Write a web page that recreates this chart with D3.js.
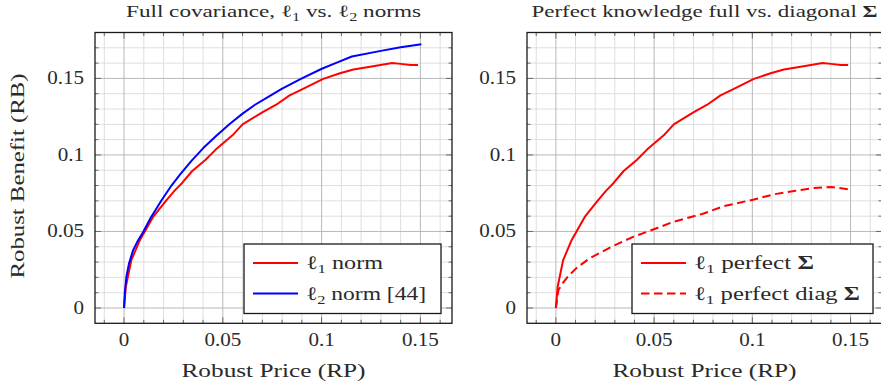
<!DOCTYPE html>
<html>
<head>
<meta charset="utf-8">
<script src="https://cdn.jsdelivr.net/npm/d3@7"></script>
<style>
  body { margin: 0; background: #fff; }
  svg { display: block; }
  text { font-family: "Liberation Serif", "DejaVu Serif", serif; fill: #2a2a2a; }
</style>
</head>
<body>
<svg id="chart" width="881" height="386"></svg>
<script>
// THE DATA
// l1 norm, full covariance (same curve in both panels)
const l1Full = [
  [0, 0], [0.0009, 0.0139], [0.0037, 0.0313], [0.008, 0.0443], [0.0147, 0.0595],
  [0.0215, 0.0705], [0.0255, 0.0765], [0.0294, 0.0817], [0.0345, 0.0895], [0.0413, 0.0969], [0.0464, 0.1035],
  [0.0549, 0.1128], [0.06, 0.12], [0.0702, 0.128], [0.077, 0.1328], [0.0838, 0.1389],
  [0.0906, 0.1432], [0.1008, 0.1497], [0.1093, 0.1534], [0.1161, 0.1558], [0.123, 0.1573],
  [0.1298, 0.1588], [0.1357, 0.1601], [0.14, 0.1595], [0.1451, 0.1588], [0.1488, 0.1588]
];
// l2 norm [44]
const l2Full = [
  [0, 0], [0.0004, 0.010], [0.0012, 0.0204], [0.0025, 0.0290], [0.0046, 0.0378], [0.007, 0.0440],
  [0.0096, 0.0495], [0.0135, 0.0590], [0.019, 0.0704], [0.024, 0.0800], [0.0282, 0.0870],
  [0.034, 0.0960], [0.0401, 0.1045], [0.047, 0.1128], [0.0536, 0.1204], [0.06, 0.1270],
  [0.0663, 0.1328], [0.073, 0.1380], [0.0798, 0.1432], [0.09, 0.1500], [0.1001, 0.1563],
  [0.108, 0.1605], [0.1153, 0.1643], [0.13, 0.1680], [0.14, 0.1703], [0.1505, 0.1723]
];
// l1 perfect diag Sigma
const l1Diag = [
  [0, 0], [0.0013, 0.0117], [0.0034, 0.0161], [0.006, 0.0204], [0.0103, 0.0259],
  [0.0171, 0.0324], [0.029, 0.0404], [0.0393, 0.0465], [0.0496, 0.0513], [0.0598, 0.0563],
  [0.0752, 0.0617], [0.0854, 0.0665], [0.1008, 0.0709], [0.1111, 0.0743], [0.1213, 0.0765],
  [0.1316, 0.0784], [0.1402, 0.0791], [0.1495, 0.0774]
];

const xTicks = [0, 0.05, 0.1, 0.15];
const yTicks = [0, 0.05, 0.1, 0.15];
const tickLabels = ["0", "0.05", "0.1", "0.15"];
const minorStep = 0.01;

// SETTING UP
const svg = d3.select("#chart");
const xDomain = [-0.0147, 0.166];
const yDomain = [-0.01, 0.18];
const plotTop = 32.5, plotBottom = 323.3;
const stretch = 1.17; // the picture's text is wider than the font

// title / legend text pieces: [text, kind]  kind: n normal, s subscript, b bold
const panels = [
  {
    left: 95, right: 452,
    title: [["Full covariance, ", "n"], ["ℓ", "n"], ["1", "s"], [" vs. ", "n"], ["ℓ", "n"], ["2", "s"], [" norms", "n"]],
    titleW: 295,
    series: [
      {data: l1Full, color: "#ff0000", dash: null, label: [["ℓ", "n"], ["1", "s"], [" norm", "n"]], w: 77},
      {data: l2Full, color: "#0000ff", dash: null, label: [["ℓ", "n"], ["2", "s"], [" norm [44]", "n"]], w: 120}
    ],
    legend: {x: 244, y: 244, w: 197, h: 69.5}
  },
  {
    left: 527, right: 882,
    title: [["Perfect knowledge full vs. diagonal ", "n"], ["Σ", "b"]],
    titleW: 346,
    series: [
      {data: l1Full, color: "#ff0000", dash: null, label: [["ℓ", "n"], ["1", "s"], [" perfect ", "n"], ["Σ", "b"]], w: 120},
      {data: l1Diag, color: "#ff0000", dash: "8.5,4.5", label: [["ℓ", "n"], ["1", "s"], [" perfect diag ", "n"], ["Σ", "b"]], w: 166}
    ],
    legend: {x: 632, y: 244, w: 241, h: 69.5}
  }
];

function richText(sel, parts, size) {
  let wasSub = false;
  parts.forEach(([t, k]) => {
    const ts = sel.append("tspan").text(t);
    if (k === "s") ts.attr("font-size", size * 0.7).attr("dy", 4);
    if (k === "b") ts.attr("font-weight", "bold");
    // back to the baseline after a subscript
    if (k !== "s" && wasSub) ts.attr("dy", -4);
    wasSub = (k === "s");
  });
}

function widen(sel, w) {
  sel.attr("textLength", w).attr("lengthAdjust", "spacingAndGlyphs");
}

panels.forEach(p => {
  const x = d3.scaleLinear().domain(xDomain).range([p.left, p.right]);
  const y = d3.scaleLinear().domain(yDomain).range([plotBottom, plotTop]);
  const g = svg.append("g");

  const minorX = d3.range(-0.01, 0.1651, minorStep).filter(v => !xTicks.some(t => Math.abs(t - v) < 1e-6));
  const minorY = d3.range(0, 0.1751, minorStep).filter(v => !yTicks.some(t => Math.abs(t - v) < 1e-6));

  // grid
  g.append("g").selectAll("line").data(minorX).join("line")
    .attr("x1", d => x(d)).attr("x2", d => x(d)).attr("y1", plotTop).attr("y2", plotBottom)
    .attr("stroke", "#dedede").attr("stroke-width", 1);
  g.append("g").selectAll("line").data(minorY).join("line")
    .attr("y1", d => y(d)).attr("y2", d => y(d)).attr("x1", p.left).attr("x2", p.right)
    .attr("stroke", "#dedede").attr("stroke-width", 1);
  g.append("g").selectAll("line").data(xTicks).join("line")
    .attr("x1", d => x(d)).attr("x2", d => x(d)).attr("y1", plotTop).attr("y2", plotBottom)
    .attr("stroke", "#b8b8b8").attr("stroke-width", 1);
  g.append("g").selectAll("line").data(yTicks).join("line")
    .attr("y1", d => y(d)).attr("y2", d => y(d)).attr("x1", p.left).attr("x2", p.right)
    .attr("stroke", "#b8b8b8").attr("stroke-width", 1);

  // tick marks, inward on all four sides
  const tk = g.append("g").attr("stroke", "#6a6a6a").attr("stroke-width", 1);
  [[minorX, 3.5], [xTicks, 6]].forEach(([vals, len]) => {
    vals.forEach(v => {
      tk.append("line").attr("x1", x(v)).attr("x2", x(v)).attr("y1", plotBottom).attr("y2", plotBottom - len);
      tk.append("line").attr("x1", x(v)).attr("x2", x(v)).attr("y1", plotTop).attr("y2", plotTop + len);
    });
  });
  [[minorY, 3.5], [yTicks, 6]].forEach(([vals, len]) => {
    vals.forEach(v => {
      tk.append("line").attr("y1", y(v)).attr("y2", y(v)).attr("x1", p.left).attr("x2", p.left + len);
      tk.append("line").attr("y1", y(v)).attr("y2", y(v)).attr("x1", p.right).attr("x2", p.right - len);
    });
  });

  // frame
  g.append("rect").attr("x", p.left).attr("y", plotTop)
    .attr("width", p.right - p.left).attr("height", plotBottom - plotTop)
    .attr("fill", "none").attr("stroke", "#1a1a1a").attr("stroke-width", 1.3);

  // tick labels
  g.append("g").selectAll("text").data(xTicks).join("text")
    .attr("x", d => x(d)).attr("y", 345.5).attr("text-anchor", "middle")
    .attr("font-size", 18).text((d, i) => tickLabels[i])
    .each(function() { widen(d3.select(this), this.getComputedTextLength() * stretch); });
  g.append("g").selectAll("text").data(yTicks).join("text")
    .attr("x", p.left - 11).attr("y", d => y(d) + 6).attr("text-anchor", "end")
    .attr("font-size", 18).text((d, i) => tickLabels[i])
    .each(function() { widen(d3.select(this), this.getComputedTextLength() * stretch); });

  // curves
  const line = d3.line().x(d => x(d[0])).y(d => y(d[1]));
  p.series.forEach(s => {
    g.append("path").datum(s.data).attr("d", line)
      .attr("fill", "none").attr("stroke", s.color).attr("stroke-width", 2)
      .attr("stroke-linejoin", "round")
      .attr("stroke-dasharray", s.dash);
  });

  // title + axis label
  const tt = g.append("text").attr("x", (p.left + p.right) / 2).attr("y", 17)
    .attr("text-anchor", "middle").attr("font-size", 17);
  richText(tt, p.title, 17);
  widen(tt, p.titleW);
  g.append("text").attr("x", (p.left + p.right) / 2).attr("y", 377)
    .attr("text-anchor", "middle").attr("font-size", 19).text("Robust Price (RP)")
    .call(widen, 184);

  // legend
  const L = p.legend;
  const lg = g.append("g");
  lg.append("rect").attr("x", L.x).attr("y", L.y).attr("width", L.w).attr("height", L.h)
    .attr("fill", "#fff").attr("stroke", "#1a1a1a").attr("stroke-width", 1.3);
  p.series.forEach((s, i) => {
    const cy = L.y + 19 + i * 30.5;
    lg.append("line").attr("x1", L.x + 9).attr("x2", L.x + 54).attr("y1", cy).attr("y2", cy)
      .attr("stroke", s.color).attr("stroke-width", 2).attr("stroke-dasharray", s.dash);
    const lt = lg.append("text").attr("x", L.x + 62).attr("y", cy + 6).attr("font-size", 19);
    richText(lt, s.label, 19);
    widen(lt, s.w);
  });
});

// y axis label (only on the left panel)
svg.append("text")
  .attr("transform", "translate(24,176) rotate(-90)")
  .attr("text-anchor", "middle").attr("font-size", 19)
  .text("Robust Benefit (RB)")
  .call(widen, 205);
</script>
</body>
</html>
